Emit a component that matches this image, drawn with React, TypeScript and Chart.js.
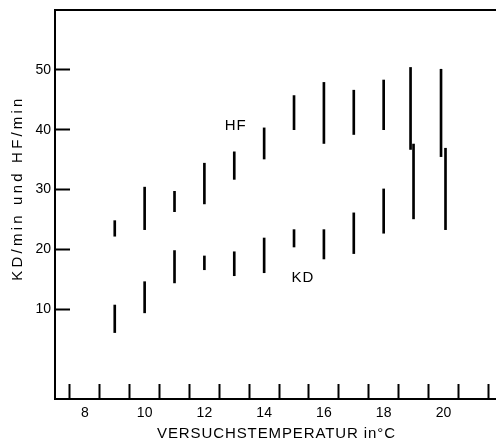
import React, { useEffect, useRef } from 'react';
import { Chart, registerables } from 'chart.js';

Chart.register(...registerables);

// Data
const hfPositions = [9, 10, 11, 12, 13, 14, 15, 16, 17, 18, 18.9, 19.92];
const hfLow = [22.2, 23.3, 26.3, 27.6, 31.7, 35.1, 40.0, 37.7, 39.2, 40.0, 36.7, 35.5];
const hfHigh = [24.8, 30.4, 29.7, 34.4, 36.3, 40.3, 45.7, 47.9, 46.6, 48.3, 50.4, 50.1];

const kdPositions = [9, 10, 11, 12, 13, 14, 15, 16, 17, 18, 19, 20.07];
const kdLow = [6.1, 9.4, 14.4, 16.6, 15.6, 16.1, 20.4, 18.4, 19.3, 22.7, 25.1, 23.3];
const kdHigh = [10.7, 14.6, 19.8, 18.9, 19.6, 21.9, 23.3, 23.3, 26.1, 30.1, 37.6, 36.9];

const xTickValues = [8, 9, 10, 11, 12, 13, 14, 15, 16, 17, 18, 19, 20, 21];
const xLabelValues = [8, 10, 12, 14, 16, 18, 20];
const yTickValues = [10, 20, 30, 40, 50];

const seriesNames = ['HF', 'KD'];
const xTitle = 'VERSUCHSTEMPERATUR in°C';
const yTitle = 'KD/min und HF/min';

const FONT = "'Liberation Sans', Arial, sans-serif";

const labelsPlugin = {
  id: 'labelsPlugin',
  afterDraw(chart: any) {
    const ctx = chart.ctx as CanvasRenderingContext2D;
    const xs = chart.scales.x;
    const ys = chart.scales.y;
    const area = chart.chartArea;
    ctx.save();
    // top frame line
    ctx.strokeStyle = '#000';
    ctx.lineWidth = 2;
    ctx.beginPath();
    ctx.moveTo(area.left - 1, area.top);
    ctx.lineTo(area.right, area.top);
    ctx.stroke();

    ctx.fillStyle = '#000';
    ctx.textAlign = 'center';
    ctx.textBaseline = 'middle';
    ctx.font = `15px ${FONT}`;
    (ctx as any).letterSpacing = '1px';
    // series labels in data coordinates
    const spots = [
      [13.05, 40.6],
      [15.3, 15.2],
    ];
    seriesNames.forEach((n, i) => {
      ctx.fillText(n, xs.getPixelForValue(spots[i][0]), ys.getPixelForValue(spots[i][1]));
    });
    // x title
    (ctx as any).letterSpacing = '0.9px';
    ctx.fillText(xTitle, (area.left + area.right) / 2 + 1, 434);
    // y title
    ctx.translate(18, 188);
    ctx.rotate(-Math.PI / 2);
    (ctx as any).letterSpacing = '3.2px';
    ctx.fillText(yTitle, 0, 0);
    ctx.restore();
  },
};

export default function App() {
  const ref = useRef<HTMLCanvasElement | null>(null);

  useEffect(() => {
    if (!ref.current) return;
    const chart = new Chart(ref.current, {
      type: 'bar',
      data: {
        datasets: [
          {
            label: seriesNames[0],
            data: hfPositions.map((x, i) => ({ x, y: [hfLow[i], hfHigh[i]] })) as any,
            backgroundColor: '#000',
            borderWidth: 0,
            barThickness: 2,
            grouped: false,
          } as any,
          {
            label: seriesNames[1],
            data: kdPositions.map((x, i) => ({ x, y: [kdLow[i], kdHigh[i]] })) as any,
            backgroundColor: '#000',
            borderWidth: 0,
            barThickness: 2,
            grouped: false,
          } as any,
        ],
      },
      options: {
        animation: false,
        responsive: true,
        maintainAspectRatio: false,
        layout: { padding: { top: 10, right: 0, left: 0, bottom: 0 } },
        plugins: {
          legend: { display: false },
          tooltip: { enabled: false },
        },
        scales: {
          x: {
            type: 'linear',
            position: 'bottom',
            min: 7,
            max: 21.76,
            offset: false,
            afterBuildTicks: (s: any) => {
              s.ticks = xTickValues.map((v) => ({ value: v }));
            },
            afterFit: (s: any) => {
              s.height = 46;
              s.paddingLeft = 0;
              s.paddingRight = 0;
              s.paddingTop = 0;
              s.paddingBottom = 0;
            },
            ticks: {
              autoSkip: false,
              maxRotation: 0,
              color: '#000',
              padding: 21,
              font: { family: FONT, size: 14 },
              callback: (v: any) => (xLabelValues.includes(Number(v)) ? String(v) : ''),
            },
            grid: {
              drawOnChartArea: false,
              tickLength: -15,
              tickWidth: 2,
              color: '#000',
            },
            border: { display: true, color: '#000', width: 2 },
          },
          y: {
            type: 'linear',
            position: 'left',
            min: -5,
            max: 60,
            afterBuildTicks: (s: any) => {
              s.ticks = yTickValues.map((v) => ({ value: v }));
            },
            afterFit: (s: any) => {
              s.width = 55;
              s.paddingLeft = 0;
              s.paddingRight = 0;
              s.paddingTop = 0;
              s.paddingBottom = 0;
            },
            ticks: {
              color: '#000',
              padding: 19,
              font: { family: FONT, size: 14 },
            },
            grid: {
              drawOnChartArea: false,
              tickLength: -15,
              tickWidth: 2,
              color: '#000',
            },
            border: { display: true, color: '#000', width: 2 },
          },
        },
      } as any,
      plugins: [labelsPlugin],
    });
    return () => chart.destroy();
  }, []);

  return (
    <div style={{ position: 'absolute', left: 0, top: 0, width: 496, height: 445, background: '#fff' }}>
      <canvas ref={ref} />
    </div>
  );
}
